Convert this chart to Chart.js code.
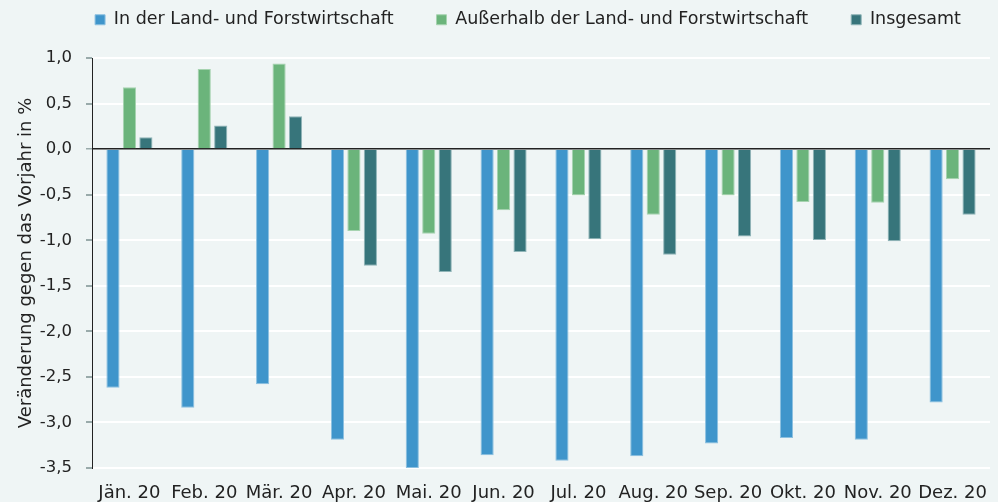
<!DOCTYPE html>
<html>
<head>
<meta charset="utf-8">
<script src="https://cdn.jsdelivr.net/npm/chart.js@4"></script>
<style>
  html, body { margin: 0; padding: 0; background: #eff5f5; }
  #wrap { width: 998px; height: 502px; }
</style>
</head>
<body>
<div id="wrap"><canvas id="myChart" width="998" height="502"></canvas></div>
<script>
// Daten (Veränderung gegen das Vorjahr in %)
const monate = ['Jän. 20', 'Feb. 20', 'Mär. 20', 'Apr. 20', 'Mai. 20', 'Jun. 20', 'Jul. 20', 'Aug. 20', 'Sep. 20', 'Okt. 20', 'Nov. 20', 'Dez. 20'];
const landForst = [-2.62, -2.84, -2.58, -3.19, -3.50, -3.36, -3.42, -3.37, -3.23, -3.17, -3.19, -2.78];
const ausserhalb = [0.68, 0.88, 0.94, -0.90, -0.93, -0.67, -0.51, -0.72, -0.51, -0.58, -0.59, -0.33];
const insgesamt = [0.13, 0.26, 0.36, -1.28, -1.35, -1.13, -0.99, -1.16, -0.96, -1.00, -1.01, -0.72];
const yTicks = [1.0, 0.5, 0.0, -0.5, -1.0, -1.5, -2.0, -2.5, -3.0, -3.5];

Chart.defaults.font.family = '"DejaVu Sans", sans-serif';
Chart.defaults.color = '#222';

// Legende: feste Höhe und etwas nach rechts versetzt
const legendeAnpassen = {
    id: 'legendeAnpassen',
    beforeLayout(chart) {
        const lg = chart.legend;
        if (lg && !lg._angepasst) {
            const fit = lg.fit;
            lg.fit = function () { fit.call(this); this.height = 90; };
            lg._angepasst = true;
        }
    },
    afterLayout(chart) {
        const lg = chart.legend;
        if (lg) { lg.left += 33; lg.right += 33; }
    }
};

const ctx = document.getElementById('myChart');
const myChart = new Chart(ctx, {
    type: 'bar',
    data: {
        labels: monate,
        datasets: [{
            label: 'In der Land- und Forstwirtschaft',
            data: landForst,
            backgroundColor: '#3f95cb',
            borderColor: '#8cc0e0',
            borderWidth: 1
        }, {
            label: 'Außerhalb der Land- und Forstwirtschaft',
            data: ausserhalb,
            backgroundColor: '#6bb47b',
            borderColor: '#a6d3b0',
            borderWidth: 1
        }, {
            label: 'Insgesamt',
            data: insgesamt,
            backgroundColor: '#37757b',
            borderColor: '#8fb4b7',
            borderWidth: 1
        }]
    },
    plugins: [legendeAnpassen],
    options: {
        responsive: false,
        animation: false,
        categoryPercentage: 0.66,
        barPercentage: 0.8,
        layout: { padding: { top: -32, right: 8, left: 0, bottom: 0 } },
        plugins: {
            legend: {
                position: 'top',
                labels: {
                    boxWidth: 10,
                    boxHeight: 10,
                    padding: 43,
                    font: { size: 17.5 },
                    color: '#222'
                }
            },
            tooltip: { enabled: false }
        },
        scales: {
            x: {
                grid: { display: false },
                border: { display: false },
                ticks: { font: { size: 18 }, color: '#222', padding: 7, maxRotation: 0, autoSkip: false },
                afterFit: (s) => { s.height = 34; }
            },
            y: {
                min: -3.5,
                max: 1,
                afterBuildTicks: (s) => { s.ticks = yTicks.map(v => ({ value: v })); },
                ticks: {
                    font: { size: 16.5 },
                    color: '#222',
                    padding: 14,
                    callback: (v) => v.toFixed(1).replace('.', ',')
                },
                grid: {
                    color: (c) => (c.tick && c.tick.value === 0) ? '#222' : '#ffffff',
                    lineWidth: (c) => (c.tick && c.tick.value === 0) ? 1.5 : 2,
                    tickColor: '#9aa',
                    tickLength: 6
                },
                border: { display: true, color: '#222', width: 1 },
                title: {
                    display: true,
                    text: 'Veränderung gegen das Vorjahr in %',
                    font: { size: 18 },
                    color: '#222',
                    padding: { top: 16, bottom: 0 }
                },
                afterFit: (s) => { s.width = 92; }
            }
        }
    }
});
</script>
</body>
</html>
